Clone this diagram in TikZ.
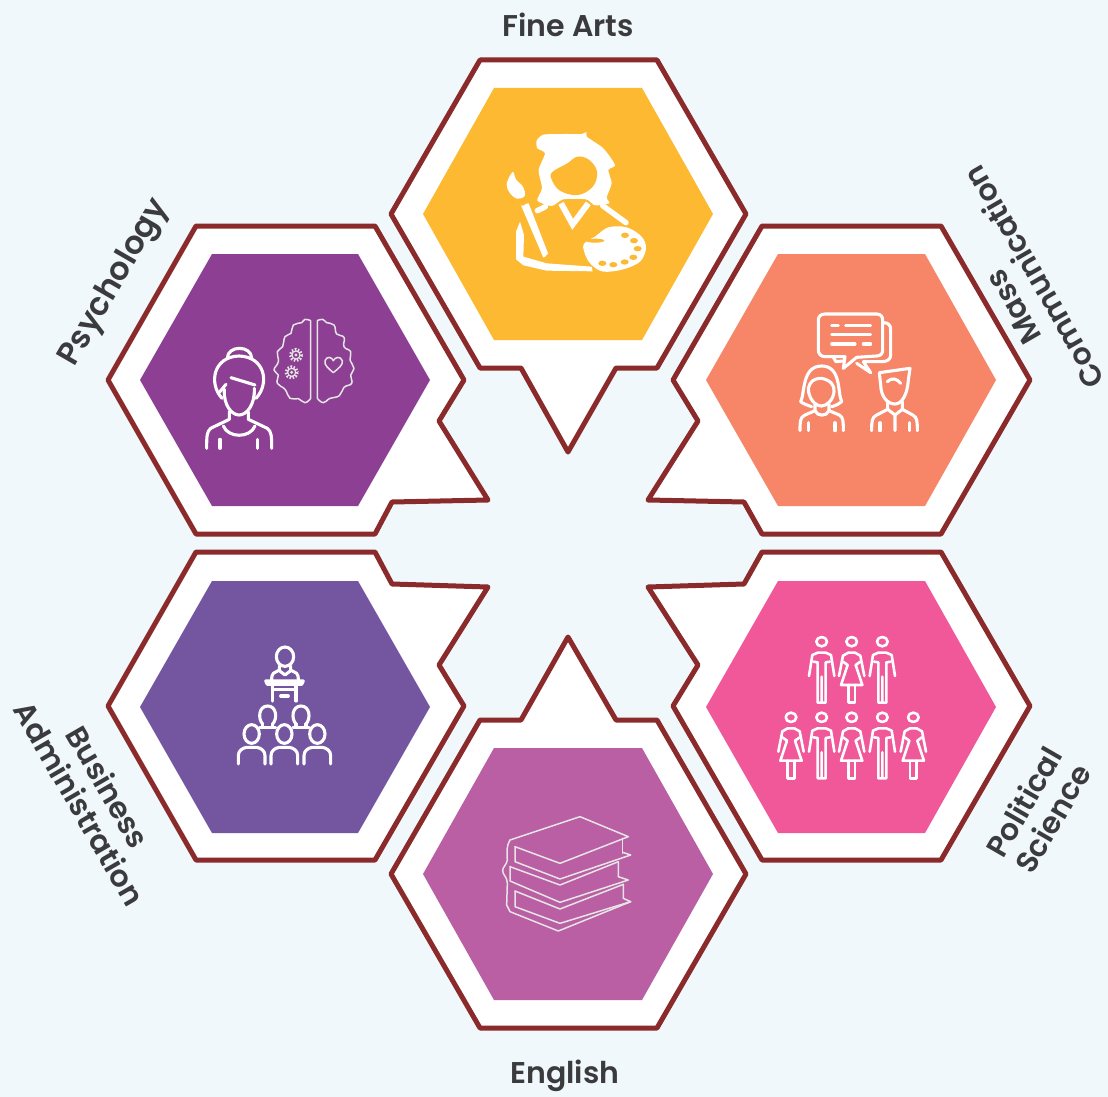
\documentclass[tikz,border=0pt]{standalone}
\usepackage{fontspec}
\setmainfont{Poppins}[BoldFont={Poppins SemiBold}]
\definecolor{bgc}{HTML}{F0F8FC}
\definecolor{rim}{HTML}{8B2A2B}
\definecolor{lab}{HTML}{3B3B3D}
\definecolor{cyel}{HTML}{FDB931}
\definecolor{cpur}{HTML}{8D4093}
\definecolor{cora}{HTML}{F78568}
\definecolor{cvio}{HTML}{7455A0}
\definecolor{cpin}{HTML}{F0589A}
\definecolor{ceng}{HTML}{BA5FA3}
\tikzset{
  shell/.style={draw=rim,fill=white,line width=5pt,line join=round},
  iconl/.style={draw=white,line width=3.1pt,line cap=round,line join=round},
  iconthin/.style={draw=white!90!black,line width=1.5pt,line cap=round,line join=round},
  lbl/.style={text=lab,font=\bfseries\fontsize{30}{33}\selectfont,align=center,inner sep=0pt},
  manfig/.pic={
    \draw[iconl,line width=2.6pt] (0,0) ellipse [x radius=16,y radius=14];
    \draw[iconl,line width=2.6pt] (-12,33)--(-28,40)--(-38,103) (12,33)--(28,40)--(38,103) (-12,33)--(12,33);
    \draw[iconl,line width=2.6pt] (-25,60)--(-12,62)--(-12,183)--(0,183)--(0,105) (25,60)--(12,62)--(12,183)--(0,183);
  },
  womanfig/.pic={
    \draw[iconl,line width=2.6pt] (0,0) ellipse [x radius=16,y radius=14];
    \draw[iconl,line width=2.6pt] (-10,33)--(-26,42)--(-38,103) (10,33)--(26,42)--(38,103);
    \draw[iconl,line width=2.6pt] (-26,60)--(-12,70)--(-32,130)--(32,130)--(12,70)--(26,60) (-10,33)--(10,33);
    \draw[iconl,line width=2.6pt] (-10,130)--(-10,183)--(10,183)--(10,130);
  },
  seated/.pic={
    \draw[iconl] (0,0) ellipse [x radius=23,y radius=28];
    \draw[iconl] (-40,90)--(-40,65) .. controls (-40,50) and (-28,42) .. (-15,40)--(15,40) .. controls (28,42) and (40,50) .. (40,65)--(40,90);
  },
  backhead/.pic={
    \draw[iconl] (-15,24) .. controls (-30,8) and (-27,-30) .. (0,-30) .. controls (27,-30) and (30,8) .. (15,24);
    \draw[iconl] (-15,24)--(-15,34)--(-24,34) (15,24)--(15,34)--(24,34) (-15,34)--(15,34);
  }
}
\begin{document}
\begin{tikzpicture}[x=1pt,y=-1pt]
\useasboundingbox (0,0) rectangle (1108,1097);
\fill[bgc] (0,0) rectangle (1108,1097);

% outer shells with pointers
\path[shell] (480,60)--(657,60)--(746,214)--(657,368)--(616,368)--(568,452)--(521,368)--(480,368)--(391,214)--cycle;
\path[shell] (196,226)--(375,226)--(464,380)--(439,421)--(488,500)--(392,502)--(375,534)--(196,534)--(108,380)--cycle;
\path[shell] (762,226)--(941,226)--(1030,380)--(941,534)--(762,534)--(744,502)--(648,500)--(698,421)--(673,380)--cycle;
\path[shell] (196,552)--(375,552)--(392,584)--(488,587)--(439,665)--(464,706)--(375,860)--(196,860)--(108,706)--cycle;
\path[shell] (762,552)--(941,552)--(1030,706)--(941,860)--(762,860)--(673,706)--(698,665)--(648,587)--(744,584)--cycle;
\path[shell] (480,720)--(521,720)--(568,637)--(616,720)--(657,720)--(746,874)--(657,1028)--(480,1028)--(391,874)--cycle;

% coloured hexagons
\fill[cyel] (494,88)--(642,88)--(713,214)--(642,340)--(494,340)--(423,214)--cycle;
\fill[cpur] (212,254)--(358,254)--(430,380)--(358,506)--(212,506)--(140,380)--cycle;
\fill[cora] (778,254)--(925,254)--(996,380)--(925,506)--(778,506)--(706,380)--cycle;
\fill[cvio] (212,581)--(358,581)--(430,707)--(358,833)--(212,833)--(140,707)--cycle;
\fill[cpin] (778,581)--(925,581)--(996,707)--(925,833)--(778,833)--(706,707)--cycle;
\fill[ceng] (494,748)--(642,748)--(713,874)--(642,1000)--(494,1000)--(423,874)--cycle;

% Fine Arts icon
\begin{scope}[shift={(480,110)},scale=1/3]
\fill[white] plot[smooth cycle,tension=.4] coordinates {(170,92)(190,74)(250,72)(305,72)(320,66)(320,80)(370,115)(405,165)(385,180)(395,220)(380,262)(388,280)(345,286)(318,268)(250,268)(215,288)(172,272)(186,235)(176,180)(195,130)(172,115)};
\fill[cyel] plot[smooth cycle,tension=.6] coordinates {(215,188)(262,160)(292,140)(325,148)(350,180)(345,220)(315,248)(280,255)(240,242)(218,215)};
\draw[white,line width=6pt,line join=miter] (243,280)--(278,343)--(325,280);
\draw[white,line width=5.5pt,line cap=round] (172,302)--(196,290);
\draw[white,line width=5.5pt,line cap=round] (368,287)--(438,338);
\fill[white] (123,286) to[out=-40,in=170] (146,280)--(205,432) to[out=90,in=0] (190,443)--cycle;
\fill[white] plot[smooth cycle,tension=.6] coordinates {(98,186)(108,208)(130,232)(134,258)(112,266)(90,250)(80,222)};
\fill[white] (120,335)--(132,375)--(130,440)--(200,460)--(335,470)--(338,484)--(200,482)--(130,466)--(108,448)--(108,365)--cycle;
\fill[white] plot[smooth cycle,tension=.55] coordinates {(310,405)(335,385)(345,380)(385,352)(440,352)(485,380)(498,415)(480,455)(430,478)(370,485)(335,465)(318,440)};
\fill[cyel] (345,392) ellipse [x radius=28,y radius=6];
\foreach \hx/\hy in {435/376,462/392,473/416,460/442,434/456,400/464,367/460}
  \fill[cyel] (\hx,\hy) ellipse [x radius=12,y radius=8];
\end{scope}

% Psychology icon
\begin{scope}[shift={(190,330)},scale=1/3]
\draw[iconl] (112,85) .. controls (112,45) and (185,45) .. (185,85);
\draw[iconl] (96,205) .. controls (55,160) and (70,80) .. (147,78) .. controls (225,80) and (240,160) .. (198,205);
\draw[iconl] (123,143)--(195,165);
\draw[iconl] (88,187)--(108,163);
\draw[iconl] (103,178) .. controls (100,225) and (125,255) .. (147,255) .. controls (170,255) and (195,225) .. (193,175);
\draw[iconl] (118,245)--(118,268)--(62,295) .. controls (50,305) and (50,320) .. (50,355);
\draw[iconl] (175,245)--(175,268)--(232,295) .. controls (245,305) and (245,320) .. (245,355);
\draw[iconl] (100,288) .. controls (115,325) and (180,325) .. (195,288);
\draw[iconl] (90,328)--(90,355) (203,328)--(203,355);
\draw[iconthin] (362,-28)--(362,205) plot[smooth,tension=.8] coordinates {(362,205)(345,218)(325,206)(300,205)(285,178)(262,160)(265,135)(252,120)(265,95)(262,65)(278,50)(285,20)(303,10)(310,-15)(335,-22)(345,-32)(362,-28)};
\draw[iconthin] (382,-28)--(382,205) plot[smooth,tension=.8] coordinates {(382,205)(400,218)(420,205)(448,197)(462,172)(485,160)(482,135)(492,115)(480,90)(482,65)(462,50)(462,22)(440,12)(432,-15)(410,-22)(398,-32)(382,-28)};
\draw[iconthin,line width=1.1pt] (318,75) circle (12) (305,127) circle (12);
\draw[iconthin,line width=3pt,dash pattern=on 1.5pt off 1.6pt,line cap=butt] (318,75) circle (17) (305,127) circle (17);
\fill[white!88!black] (318,75) circle (5) (305,127) circle (5);
\draw[iconthin] (430,128) .. controls (415,115) and (402,105) .. (405,92) .. controls (410,78) and (425,80) .. (430,92) .. controls (435,80) and (452,78) .. (457,92) .. controls (460,105) and (445,115) .. (430,128) -- cycle;
\end{scope}

% Mass Communication icon
\begin{scope}[shift={(780,300)},scale=1/3]
\draw[iconl] (135,42)--(290,42) .. controls (302,42) and (308,50) .. (308,60)--(308,150) .. controls (308,160) and (302,168) .. (290,168)--(230,172)--(190,205)--(195,170)--(135,170) .. controls (122,170) and (115,160) .. (115,150)--(115,60) .. controls (115,50) and (122,42) .. (135,42)--cycle;
\draw[iconl] (310,68) .. controls (325,68) and (332,75) .. (332,90)--(332,165) .. controls (332,178) and (322,185) .. (305,185)--(250,185)--(272,218)--(230,190);
\draw[iconl] (160,172)--(168,185)--(190,183);
\draw[iconl] (155,77)--(175,77) (197,77)--(272,77) (155,104)--(272,104) (155,132)--(225,132) (250,132)--(272,132);
\draw[iconl] (95,320) .. controls (80,315) and (68,310) .. (62,305) .. controls (75,280) and (65,198) .. (125,198) .. controls (185,198) and (172,280) .. (185,305) .. controls (178,312) and (168,316) .. (155,320);
\draw[iconl] (85,265) .. controls (90,245) and (100,235) .. (125,235) .. controls (150,240) and (165,255) .. (162,275) .. controls (160,300) and (140,318) .. (125,318) .. controls (105,318) and (85,295) .. (85,265)--cycle;
\draw[iconl] (105,312)--(105,332)--(75,345) .. controls (60,352) and (60,365) .. (60,392);
\draw[iconl] (147,312)--(147,332)--(178,345) .. controls (190,352) and (190,365) .. (190,392);
\draw[iconl] (105,332) .. controls (112,350) and (140,350) .. (147,332);
\draw[iconl] (85,368)--(85,392) (165,368)--(165,392);
\draw[iconl] (302,255)--(298,218)--(390,205)--(385,240) .. controls (382,285) and (365,312) .. (345,312) .. controls (322,312) and (303,290) .. (302,255);
\draw[iconl] (322,245) .. controls (335,232) and (350,235) .. (362,250);
\draw[iconl] (323,305)--(323,328)--(290,345) .. controls (275,352) and (275,365) .. (275,392);
\draw[iconl] (367,305)--(367,328)--(398,345) .. controls (412,352) and (412,365) .. (412,392);
\draw[iconl] (323,328)--(345,345)--(367,328) (345,345)--(345,392);
\draw[iconl] (300,368)--(300,392) (388,368)--(388,392);
\end{scope}

% Business Administration icon
\begin{scope}[shift={(220,640)},scale=1/3]
\draw[iconl] (195,50) ellipse [x radius=26,y radius=29];
\draw[iconl] (178,78)--(178,90)--(160,100) .. controls (155,105) and (155,112) .. (155,120);
\draw[iconl] (212,78)--(212,90)--(230,100) .. controls (235,105) and (235,112) .. (235,120);
\draw[iconl] (178,92)--(195,105)--(212,92);
\draw[iconl] (137,123)--(250,123)--(245,133)--(142,133)--cycle;
\draw[iconl] (158,135)--(158,183) (228,135)--(228,183) (158,148)--(228,148) (182,168)--(205,168);
\pic[transform shape] at (143,228) {backhead};
\pic[transform shape] at (243,228) {backhead};
\pic[transform shape] at (95,282) {seated};
\pic[transform shape] at (193,282) {seated};
\pic[transform shape] at (292,282) {seated};
\end{scope}

% Political Science icon
\begin{scope}[shift={(770,625)},scale=1/3]
\pic[transform shape] at (155,50) {manfig};
\pic[transform shape] at (245,50) {womanfig};
\pic[transform shape] at (337,50) {manfig};
\pic[transform shape] at (63,277) {womanfig};
\pic[transform shape] at (155,277) {manfig};
\pic[transform shape] at (245,277) {womanfig};
\pic[transform shape] at (337,277) {manfig};
\pic[transform shape] at (430,277) {womanfig};
\end{scope}

% English icon
\begin{scope}[shift={(490,805)},scale=1/3]
\draw[iconthin] (60,105)--(270,35)--(415,95)--(210,175)--(75,125);
\draw[iconthin] (60,105) .. controls (50,120) and (50,140) .. (52,165) .. controls (50,180) and (38,185) .. (38,197) .. controls (38,210) and (52,215) .. (52,235)--(50,300)--(60,320)--(205,378)--(422,290);
\draw[iconthin] (75,125)--(75,170)--(210,222)--(422,150)--(398,142);
\draw[iconthin] (398,100)--(398,145);
\draw[iconthin] (60,185)--(210,240)--(385,170)--(385,215);
\draw[iconthin] (60,185)--(60,228)--(210,292)--(415,225)--(385,215);
\draw[iconthin] (75,258)--(210,312)--(400,238)--(400,280);
\draw[iconthin] (75,258)--(75,305)--(210,355)--(422,290)--(400,280);
\end{scope}

% labels
\node[lbl] (fine) at (568,25) {Fine Arts};
\node[lbl] (eng) at (565,1076) {English};
\node[lbl,rotate=60,font=\bfseries\fontsize{32}{35}\selectfont] (psy) at (115,283) {Psychology};
\node[lbl,rotate=120] (mass) at (1020,285) {Mass\hspace*{32pt}\\Communication};
\node[lbl,rotate=60] (pol) at (1038,810) {Political\\Science};
\node[lbl,rotate=-60] (bus) at (94,795) {Business\\Administration};
\end{tikzpicture}
\end{document}
